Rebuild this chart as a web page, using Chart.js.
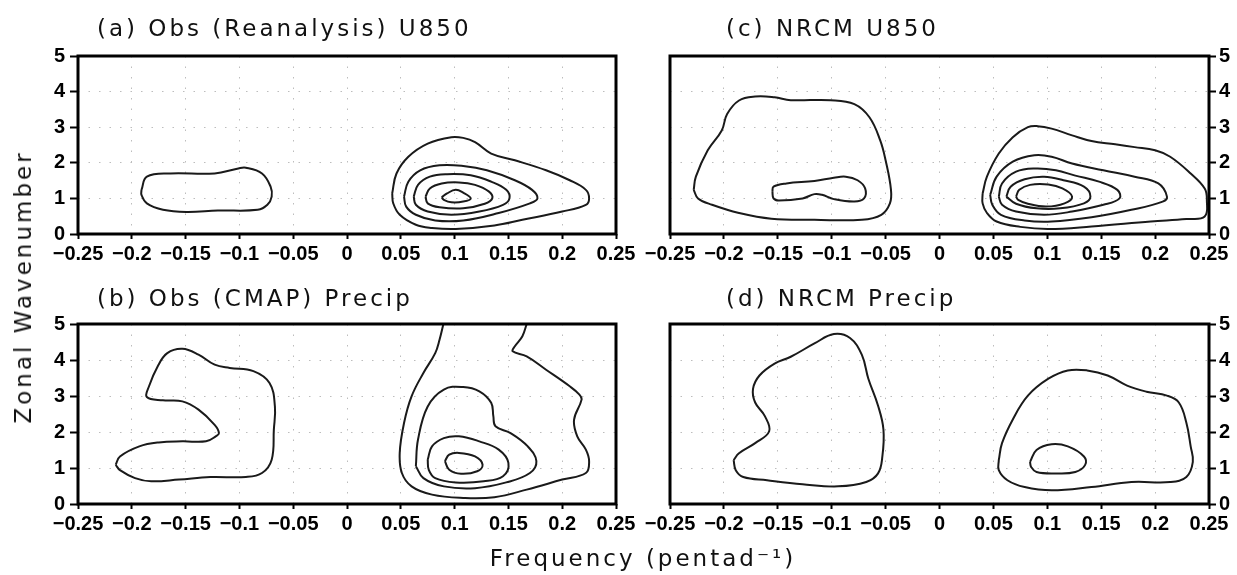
<!DOCTYPE html>
<html>
<head>
<meta charset="utf-8">
<script src="https://cdn.jsdelivr.net/npm/chart.js@4.4.1/dist/chart.umd.min.js"></script>
<style>
html,body{margin:0;padding:0;background:#fff;}
#wrap{position:relative;width:1237px;height:575px;overflow:hidden;background:#fff;}
canvas{position:absolute;}
.lbl{position:absolute;font-family:'DejaVu Sans',sans-serif;font-size:23px;letter-spacing:3px;color:#111;white-space:nowrap;transform:translate(-50%,-50%);}
#ylab{left:23px;top:287px;transform:translate(-50%,-50%) rotate(-90deg);}
#xlab{left:643px;top:558px;}
</style>
</head>
<body>
<div id="wrap">
  <canvas id="pa" width="645" height="270" style="left:0px;top:0px"></canvas>
  <canvas id="pb" width="645" height="305" style="left:0px;top:270px"></canvas>
  <canvas id="pc" width="597" height="270" style="left:640px;top:0px"></canvas>
  <canvas id="pd" width="597" height="305" style="left:640px;top:270px"></canvas>
  <div class="lbl" id="ylab"></div>
  <div class="lbl" id="xlab"></div>
</div>
<script>
// ---------- tick values / labels ----------
const freqTicks = [-0.25,-0.2,-0.15,-0.1,-0.05,0,0.05,0.1,0.15,0.2,0.25];
const freqTickLabels = ['\u22120.25','\u22120.2','\u22120.15','\u22120.1','\u22120.05','0','0.05','0.1','0.15','0.2','0.25'];
const waveTicks = [0,1,2,3,4,5];
const waveTickLabels = ['0','1','2','3','4','5'];
const panelTitles = ['(a) Obs (Reanalysis) U850','(b) Obs (CMAP) Precip','(c) NRCM U850','(d) NRCM Precip'];
const yAxisTitle = 'Zonal Wavenumber';
const xAxisTitle = 'Frequency (pentad\u207B\u00B9)';

// ---------- contour lines [frequency, wavenumber] ----------
// (a) Obs (Reanalysis) U850
const aWest = [[-0.191,1.24],[-0.186,1.61],[-0.164,1.70],[-0.123,1.70],[-0.101,1.84],[-0.094,1.86],[-0.079,1.70],[-0.071,1.33],[-0.070,1.05],[-0.074,0.82],[-0.083,0.68],[-0.120,0.66],[-0.149,0.62],[-0.171,0.68],[-0.186,0.86],[-0.191,1.10],[-0.191,1.24]];
const aEast1 = [[0.042,1.14],[0.046,1.70],[0.057,2.17],[0.075,2.54],[0.097,2.72],[0.108,2.70],[0.119,2.58],[0.134,2.26],[0.156,2.07],[0.185,1.79],[0.207,1.51],[0.222,1.24],[0.225,1.00],[0.222,0.82],[0.200,0.63],[0.163,0.40],[0.137,0.24],[0.101,0.14],[0.079,0.17],[0.064,0.26],[0.049,0.54],[0.043,0.86],[0.042,1.14]];
const aEast2 = [[0.053,1.05],[0.057,1.47],[0.068,1.79],[0.086,1.93],[0.108,1.91],[0.130,1.79],[0.156,1.51],[0.172,1.24],[0.177,1.00],[0.170,0.86],[0.141,0.59],[0.108,0.38],[0.082,0.38],[0.064,0.54],[0.055,0.77],[0.053,1.05]];
const aEast3 = [[0.062,1.05],[0.066,1.38],[0.077,1.61],[0.093,1.68],[0.115,1.65],[0.134,1.47],[0.148,1.24],[0.151,1.00],[0.145,0.82],[0.123,0.63],[0.097,0.54],[0.075,0.63],[0.064,0.82],[0.062,1.05]];
const aEast4 = [[0.073,1.05],[0.077,1.28],[0.088,1.42],[0.104,1.45],[0.119,1.38],[0.132,1.19],[0.135,1.00],[0.128,0.85],[0.108,0.72],[0.086,0.75],[0.075,0.86],[0.073,1.05]];
const aEast5 = [[0.088,1.03],[0.093,1.14],[0.101,1.24],[0.108,1.16],[0.115,1.00],[0.108,0.91],[0.097,0.89],[0.090,0.96],[0.088,1.03]];

// (b) Obs (CMAP) Precip
const bWest = [[-0.215,1.09],[-0.211,1.32],[-0.193,1.60],[-0.175,1.71],[-0.153,1.74],[-0.131,1.74],[-0.122,1.88],[-0.119,1.97],[-0.123,2.20],[-0.138,2.62],[-0.153,2.85],[-0.171,2.88],[-0.186,2.97],[-0.184,3.27],[-0.176,3.82],[-0.167,4.19],[-0.153,4.31],[-0.138,4.15],[-0.123,3.87],[-0.109,3.78],[-0.087,3.69],[-0.072,3.36],[-0.067,2.71],[-0.068,2.06],[-0.070,1.23],[-0.079,0.86],[-0.094,0.75],[-0.127,0.75],[-0.156,0.68],[-0.182,0.63],[-0.197,0.72],[-0.211,0.94],[-0.215,1.09]];
const bEast1 = [[0.0896,5.0],[0.086,4.56],[0.082,4.19],[0.071,3.64],[0.060,2.99],[0.053,2.25],[0.049,1.42],[0.051,0.86],[0.060,0.49],[0.079,0.26],[0.108,0.17],[0.137,0.19],[0.167,0.40],[0.200,0.68],[0.222,0.86],[0.225,1.19],[0.222,1.51],[0.214,1.88],[0.211,2.34],[0.218,2.90],[0.216,3.04],[0.207,3.27],[0.185,3.73],[0.167,4.10],[0.154,4.24],[0.156,4.38],[0.163,4.66],[0.167,5.0]];
const bEast2 = [[0.064,1.05],[0.066,1.79],[0.075,2.71],[0.090,3.18],[0.108,3.25],[0.123,3.13],[0.134,2.81],[0.136,2.44],[0.138,2.16],[0.152,1.97],[0.168,1.60],[0.176,1.19],[0.170,0.86],[0.148,0.60],[0.119,0.44],[0.090,0.49],[0.071,0.72],[0.064,1.05]];
const bEast3 = [[0.075,1.23],[0.079,1.60],[0.090,1.83],[0.104,1.88],[0.123,1.74],[0.141,1.51],[0.150,1.14],[0.145,0.77],[0.127,0.63],[0.101,0.60],[0.082,0.72],[0.076,0.95],[0.075,1.23]];
const bEast4 = [[0.091,1.19],[0.095,1.37],[0.104,1.42],[0.119,1.32],[0.126,1.09],[0.121,0.91],[0.106,0.84],[0.095,0.95],[0.091,1.19]];

// (c) NRCM U850
const cWest1 = [[-0.228,1.24],[-0.226,1.61],[-0.215,2.35],[-0.202,2.91],[-0.197,3.37],[-0.186,3.75],[-0.171,3.86],[-0.153,3.84],[-0.138,3.76],[-0.101,3.76],[-0.079,3.65],[-0.065,3.28],[-0.055,2.63],[-0.050,2.07],[-0.045,1.24],[-0.046,0.86],[-0.054,0.54],[-0.072,0.40],[-0.116,0.40],[-0.156,0.43],[-0.186,0.59],[-0.211,0.82],[-0.224,1.00],[-0.228,1.24]];
const cWest2 = [[-0.155,1.19],[-0.154,1.33],[-0.142,1.42],[-0.116,1.49],[-0.098,1.58],[-0.087,1.61],[-0.076,1.51],[-0.069,1.28],[-0.070,1.00],[-0.079,0.91],[-0.098,0.98],[-0.109,1.10],[-0.116,1.12],[-0.127,1.00],[-0.149,0.94],[-0.154,1.00],[-0.155,1.19]];
const cEast1 = [[0.040,1.14],[0.044,1.61],[0.055,2.26],[0.068,2.72],[0.082,3.00],[0.091,3.03],[0.104,2.96],[0.123,2.77],[0.141,2.61],[0.163,2.52],[0.181,2.44],[0.200,2.35],[0.214,2.17],[0.233,1.70],[0.246,1.28],[0.248,0.96],[0.246,0.49],[0.229,0.42],[0.196,0.35],[0.141,0.21],[0.101,0.14],[0.075,0.20],[0.053,0.35],[0.044,0.59],[0.040,0.86],[0.040,1.14]];
const cEast2 = [[0.047,1.10],[0.053,1.61],[0.068,2.03],[0.088,2.21],[0.104,2.17],[0.123,1.98],[0.152,1.79],[0.181,1.61],[0.203,1.42],[0.211,1.05],[0.207,0.91],[0.178,0.68],[0.141,0.47],[0.104,0.35],[0.079,0.38],[0.057,0.54],[0.049,0.82],[0.047,1.10]];
const cEast3 = [[0.055,1.05],[0.058,1.42],[0.071,1.75],[0.089,1.84],[0.108,1.79],[0.126,1.64],[0.148,1.47],[0.165,1.24],[0.167,1.00],[0.152,0.82],[0.123,0.63],[0.097,0.54],[0.071,0.63],[0.058,0.82],[0.055,1.05]];
const cEast4 = [[0.062,1.05],[0.066,1.33],[0.079,1.54],[0.097,1.61],[0.115,1.51],[0.134,1.33],[0.140,1.05],[0.134,0.86],[0.112,0.72],[0.090,0.72],[0.071,0.85],[0.062,1.05]];
const cEast5 = [[0.071,1.05],[0.074,1.24],[0.084,1.38],[0.101,1.39],[0.114,1.28],[0.123,1.05],[0.116,0.86],[0.099,0.77],[0.082,0.85],[0.073,0.96],[0.071,1.05]];

// (d) NRCM Precip
const dWest = [[-0.191,1.22],[-0.186,1.41],[-0.171,1.69],[-0.158,2.02],[-0.162,2.44],[-0.171,2.82],[-0.173,3.20],[-0.167,3.57],[-0.153,3.90],[-0.138,4.09],[-0.116,4.46],[-0.098,4.72],[-0.083,4.61],[-0.072,4.14],[-0.066,3.48],[-0.057,2.73],[-0.052,2.07],[-0.053,1.32],[-0.057,0.85],[-0.068,0.61],[-0.094,0.49],[-0.127,0.55],[-0.160,0.66],[-0.182,0.75],[-0.189,0.94],[-0.191,1.22]];
const dEast1 = [[0.055,1.22],[0.058,1.69],[0.068,2.35],[0.082,3.01],[0.101,3.48],[0.119,3.71],[0.137,3.71],[0.156,3.57],[0.174,3.29],[0.192,3.12],[0.211,3.01],[0.222,2.82],[0.229,2.26],[0.233,1.60],[0.235,1.17],[0.229,0.75],[0.214,0.61],[0.178,0.61],[0.141,0.47],[0.104,0.38],[0.079,0.47],[0.063,0.66],[0.055,0.94],[0.055,1.22]];
const dEast2 = [[0.084,1.17],[0.090,1.50],[0.104,1.66],[0.119,1.60],[0.134,1.32],[0.135,1.08],[0.126,0.89],[0.108,0.85],[0.090,0.89],[0.085,1.03],[0.084,1.17]];

// ---------- plugins ----------
const framePlugin = {
  id: 'frame',
  afterDraw(chart) {
    const {ctx, chartArea: a} = chart;
    ctx.save();
    ctx.strokeStyle = '#000';
    ctx.lineWidth = 3;
    ctx.strokeRect(a.left, a.top, a.right - a.left, a.bottom - a.top);
    ctx.restore();
  }
};
const titlePlugin = {
  id: 'panelTitle',
  afterDraw(chart, args, opts) {
    const ctx = chart.ctx;
    ctx.save();
    ctx.font = '23px "DejaVu Sans", sans-serif';
    try { ctx.letterSpacing = '3px'; } catch (e) {}
    ctx.fillStyle = '#111';
    ctx.textBaseline = 'middle';
    ctx.textAlign = 'left';
    ctx.fillText(opts.text, opts.x, opts.y);
    ctx.restore();
  }
};

const tickFont = {family: '"Liberation Sans", Arial, sans-serif', weight: 'bold', size: 20};

function makePanel(id, title, contours, cfg) {
  const datasets = contours.map(c => ({
    data: c,
    showLine: true,
    borderColor: '#1a1a1a',
    borderWidth: 2,
    pointRadius: 0,
    pointHoverRadius: 0,
    tension: 0.4,
    fill: false
  }));
  return new Chart(document.getElementById(id), {
    type: 'scatter',
    data: {datasets},
    options: {
      responsive: false,
      animation: false,
      events: [],
      layout: {padding: cfg.pad},
      plugins: {
        legend: {display: false},
        tooltip: {enabled: false},
        title: {display: false},
        panelTitle: {text: title, x: cfg.titleX, y: cfg.titleY}
      },
      scales: {
        x: {
          type: 'linear', min: -0.25, max: 0.25,
          afterBuildTicks: s => { s.ticks = freqTicks.map(v => ({value: v})); },
          afterFit: s => { s.height = cfg.xH; },
          ticks: {callback: (v, i) => freqTickLabels[i], font: tickFont, color: '#000', maxRotation: 0, minRotation: 0, autoSkip: false, padding: 3},
          grid: {color: '#bdbdbd', lineWidth: 1, tickColor: '#000', tickWidth: 2, tickLength: 5},
          border: {display: false, dash: [1.5, 9]}
        },
        y: {
          type: 'linear', min: 0, max: 5, position: cfg.ySide,
          afterBuildTicks: s => { s.ticks = waveTicks.map(v => ({value: v})); },
          afterFit: s => { s.width = cfg.yW; },
          ticks: {callback: (v, i) => waveTickLabels[i], font: tickFont, color: '#000', autoSkip: false, padding: cfg.yPad},
          grid: {color: '#bdbdbd', lineWidth: 1, tickColor: '#000', tickWidth: 2, tickLength: cfg.yTick},
          border: {display: false, dash: [1.5, 9]}
        }
      }
    },
    plugins: [framePlugin, titlePlugin]
  });
}

document.getElementById('ylab').textContent = yAxisTitle;
document.getElementById('xlab').textContent = xAxisTitle;

makePanel('pa', panelTitles[0], [aWest, aEast1, aEast2, aEast3, aEast4, aEast5],
  {pad: {left: 0, right: 29, top: 56, bottom: 0}, xH: 36, yW: 78, ySide: 'left', yPad: 5, yTick: 8, titleX: 97, titleY: 30});
makePanel('pb', panelTitles[1], [bWest, bEast1, bEast2, bEast3, bEast4],
  {pad: {left: 0, right: 29, top: 54, bottom: 35}, xH: 36, yW: 78, ySide: 'left', yPad: 5, yTick: 8, titleX: 97, titleY: 30});
makePanel('pc', panelTitles[2], [cWest1, cWest2, cEast1, cEast2, cEast3, cEast4, cEast5],
  {pad: {left: 30, right: 0, top: 56, bottom: 0}, xH: 36, yW: 28, ySide: 'right', yPad: 3, yTick: 7, titleX: 86, titleY: 30});
makePanel('pd', panelTitles[3], [dWest, dEast1, dEast2],
  {pad: {left: 30, right: 0, top: 54, bottom: 35}, xH: 36, yW: 28, ySide: 'right', yPad: 3, yTick: 7, titleX: 86, titleY: 30});
</script>
</body>
</html>
